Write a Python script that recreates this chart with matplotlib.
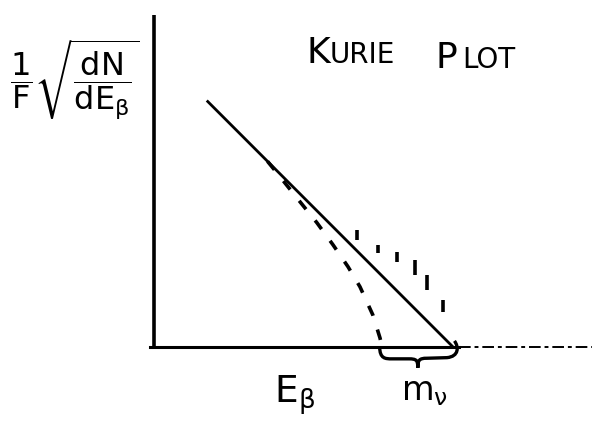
import numpy as np
import matplotlib
matplotlib.use("Agg")
import matplotlib.pyplot as plt
from matplotlib.path import Path
from matplotlib.patches import PathPatch

plt.rcParams['mathtext.default'] = 'regular'
plt.rcParams['mathtext.fontset'] = 'dejavusans'

# straight Kurie line (massless neutrino), energy in units of the endpoint
line_E = [0.18, 1.0]
line_K = [0.82, 0.0]

# dashed curve (massive neutrino)
curve_E = [0.38, 0.411, 0.478, 0.545, 0.599, 0.649, 0.689, 0.732, 0.756, 0.763]
curve_K = [0.62, 0.582, 0.498, 0.415, 0.341, 0.268, 0.201, 0.107, 0.030, 0.0]

# short vertical strokes above the line near the endpoint
tick_E = [0.679, 0.749, 0.813, 0.873, 0.913, 0.967]
tick_lo = [0.358, 0.314, 0.284, 0.241, 0.191, 0.117]
tick_hi = [0.391, 0.341, 0.318, 0.291, 0.241, 0.157]

# brace under the axis between the two endpoints
brace_left = 0.755
brace_right = 1.01
brace_depth = 0.07


fig = plt.figure(figsize=(5.92, 4.21), dpi=100)
ax = fig.add_axes([0.26, 0.176, 0.74, 0.789])
ax.set_xlim(0, 1.465)
ax.set_ylim(0, 1.11)
ax.axis('off')

# axes drawn by hand
ax.plot([0, 0], [0, 1.11], color='k', lw=2.6, solid_capstyle='butt', clip_on=False)
ax.plot([-0.012, 1.02], [0, 0], color='k', lw=2.2, clip_on=False)
ax.plot([1.02, 1.465], [0, 0], color='k', lw=1.4, ls=(0, (6, 2, 2, 2)), clip_on=False)

ax.plot(line_E, line_K, color='k', lw=2.0)
ax.plot(curve_E, curve_K, color='k', lw=2.6, ls=(0, (3, 4)))
ax.vlines(tick_E, tick_lo, tick_hi, color='k', lw=2.6)

# curly brace
m = 0.5 * (brace_left + brace_right)
d = brace_depth
s = 0.57 * d
verts = [
    (brace_left, 0.0),
    (brace_left, -s), (brace_left + 0.02, -s), (brace_left + 0.04, -s),
    (m - 0.03, -s),
    (m - 0.005, -s), (m, -1.1 * s), (m, -d),
    (m, -1.1 * s), (m + 0.005, -0.95 * s), (m + 0.03, -0.95 * s),
    (brace_right - 0.03, -0.9 * s),
    (brace_right + 0.01, -0.8 * s), (brace_right + 0.01, 0.0), (brace_right - 0.005, 0.02),
]
codes = [Path.MOVETO,
         Path.CURVE4, Path.CURVE4, Path.CURVE4,
         Path.LINETO,
         Path.CURVE4, Path.CURVE4, Path.CURVE4,
         Path.CURVE4, Path.CURVE4, Path.CURVE4,
         Path.LINETO,
         Path.CURVE4, Path.CURVE4, Path.CURVE4]
ax.add_patch(PathPatch(Path(verts, codes), fill=False, lw=2.4, ec='k', clip_on=False))

# labels
ax.text(0.47, -0.16, r'$E_\beta$', fontsize=27, ha='center', va='center', clip_on=False)
ax.text(0.905, -0.15, r'$m_\nu$', fontsize=24, ha='center', va='center', clip_on=False)

fig.text(0.127, 0.81, r'$\dfrac{1}{F}\sqrt{\dfrac{dN}{dE_\beta}}$', fontsize=23,
         ha='center', va='center')

fig.text(0.518, 0.850, 'K', fontsize=26, ha='left', va='baseline')
fig.text(0.557, 0.850, 'URIE', fontsize=20, ha='left', va='baseline')
fig.text(0.735, 0.838, 'P', fontsize=26, ha='left', va='baseline')
fig.text(0.780, 0.838, 'LOT', fontsize=20, ha='left', va='baseline')

fig.savefig('out.png', dpi=100, facecolor='white')
